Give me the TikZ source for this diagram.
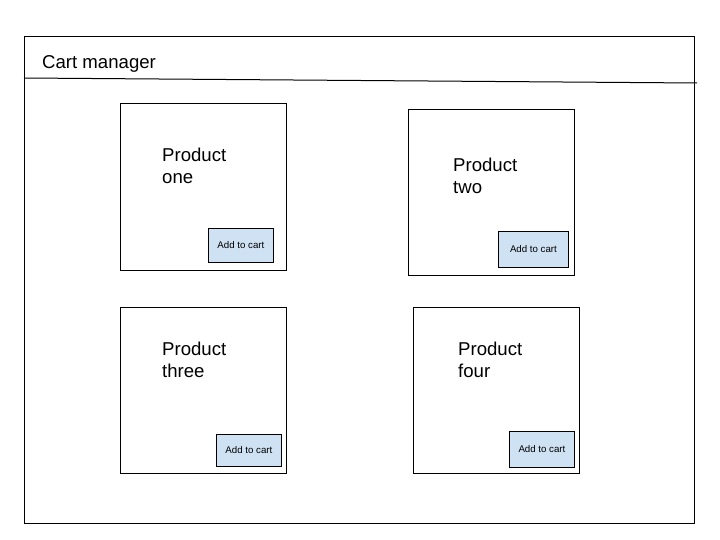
\documentclass[tikz,border=0pt]{standalone}
\usepackage{fontspec}
\setmainfont{Liberation Sans}
\definecolor{btnblue}{HTML}{CFE2F3}
\begin{document}
\begin{tikzpicture}[x=1pt,y=-1pt,
  frame/.style={draw=black,line width=1pt},
  card/.style={draw=black,line width=0.9pt,rectangle,anchor=north west,inner sep=0pt,minimum width=166pt,minimum height=167pt},
  btn/.style={draw=black,line width=0.9pt,fill=btnblue,rectangle,anchor=north west,inner sep=0pt,font=\fontsize{9.7}{11}\selectfont},
  ptitle/.style={anchor=north west,inner sep=0pt,align=left,font=\fontsize{18.6}{22}\selectfont},
  htitle/.style={anchor=base west,inner sep=0pt,font=\fontsize{18.6}{22}\selectfont}]
\useasboundingbox (0,0) rectangle (720,540);
\fill[white] (0,0) rectangle (720,540);
\node[frame,rectangle,anchor=north west,inner sep=0pt,minimum width=670pt,minimum height=487pt] (outer) at (24,36) {};
\coordinate (hl) at (24,78);
\coordinate (hr) at (697,83);
\draw[line width=1pt] (hl) -- (hr);
\node[htitle] (title) at (42,69) {Cart manager};
% cards
\node[card] (c1) at (120,103) {};
\node[card,minimum height=166pt] (c2) at (408,109) {};
\node[card,minimum height=166pt] (c3) at (120,307) {};
\node[card,minimum height=166pt] (c4) at (413,307) {};
% titles
\node[ptitle] (t1) at (162,148) {Product\\one};
\node[ptitle] (t2) at (453,158) {Product\\two};
\node[ptitle] (t3) at (162,342) {Product\\three};
\node[ptitle] (t4) at (458,342) {Product\\four};
% buttons
\node[btn,minimum width=65pt,minimum height=34pt] (b1) at (208,228) {Add to cart};
\node[btn,minimum width=70pt,minimum height=36pt] (b2) at (498,231) {Add to cart};
\node[btn,minimum width=65pt,minimum height=32pt] (b3) at (216,434) {Add to cart};
\node[btn,minimum width=65pt,minimum height=36pt] (b4) at (509,431) {Add to cart};
\end{tikzpicture}
\end{document}
